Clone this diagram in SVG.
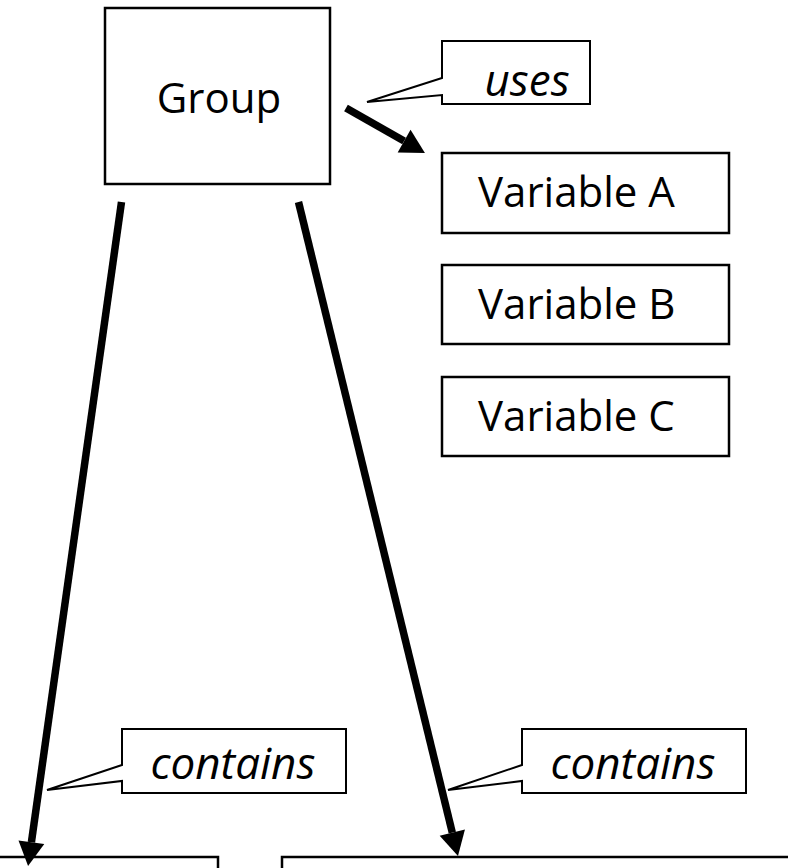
<svg xmlns="http://www.w3.org/2000/svg" width="788" height="868" viewBox="0 0 788 868">
  <style>
    .box { fill: #ffffff; stroke: #000000; stroke-width: 2.5; }
    .callout { fill: #ffffff; stroke: #000000; stroke-width: 2; stroke-linejoin: miter; }
    .label { font-family: "Open Sans", "Noto Sans", "Liberation Sans", sans-serif; font-size: 42px; fill: #000000; }
    .note { font-family: "Open Sans", "Noto Sans", "Liberation Sans", sans-serif; font-size: 44px; font-style: italic; fill: #000000; text-anchor: middle; }
    .edge { fill: none; stroke: #000000; stroke-width: 7.5; stroke-linecap: butt; }
  </style>
  <defs>
    <marker id="head" markerUnits="userSpaceOnUse" markerWidth="28" markerHeight="26" refX="0" refY="13" orient="auto" overflow="visible">
      <path d="M0,0 L24,13 L0,26 Z" fill="#000000"/>
    </marker>
  </defs>
  <rect width="788" height="868" fill="#ffffff"/>

  <!-- nodes -->
  <g id="group">
    <rect class="box" x="105" y="8" width="225" height="176"/>
    <text class="label" x="219" y="113" text-anchor="middle" font-size="40">Group</text>
  </g>
  <g id="variable-a">
    <rect class="box" x="442" y="153" width="287" height="80"/>
    <text class="label" x="478" y="207">Variable A</text>
  </g>
  <g id="variable-b">
    <rect class="box" x="442" y="265" width="287" height="79"/>
    <text class="label" x="478" y="319">Variable B</text>
  </g>
  <g id="variable-c">
    <rect class="box" x="442" y="377" width="287" height="79"/>
    <text class="label" x="478" y="431">Variable C</text>
  </g>
  <g id="child-left">
    <rect class="box" x="-4" y="857" width="222" height="30"/>
  </g>
  <g id="child-right">
    <rect class="box" x="282" y="857" width="520" height="30"/>
  </g>

  <!-- connectors -->
  <g id="connectors">
    <line class="edge" x1="346" y1="108" x2="404.1" y2="141.1" marker-end="url(#head)"/>
    <line class="edge" x1="121.5" y1="202" x2="31.4" y2="842.2" marker-end="url(#head)"/>
    <line class="edge" x1="298.5" y1="202" x2="452.3" y2="832.7" marker-end="url(#head)"/>
  </g>

  <!-- callout labels -->
  <g id="uses-label">
    <path class="callout" d="M442,41 L590,41 L590,104 L442,104 L442,95 L367,102 L442,78 Z"/>
    <text class="note" x="527" y="96">uses</text>
  </g>
  <g id="contains-left-label">
    <path class="callout" d="M122,729 L346,729 L346,793 L122,793 L122,781 L47,790 L122,765 Z"/>
    <text class="note" x="233" y="779">contains</text>
  </g>
  <g id="contains-right-label">
    <path class="callout" d="M522,729 L746,729 L746,793 L522,793 L522,781 L448,790 L522,765 Z"/>
    <text class="note" x="633" y="779">contains</text>
  </g>
</svg>
